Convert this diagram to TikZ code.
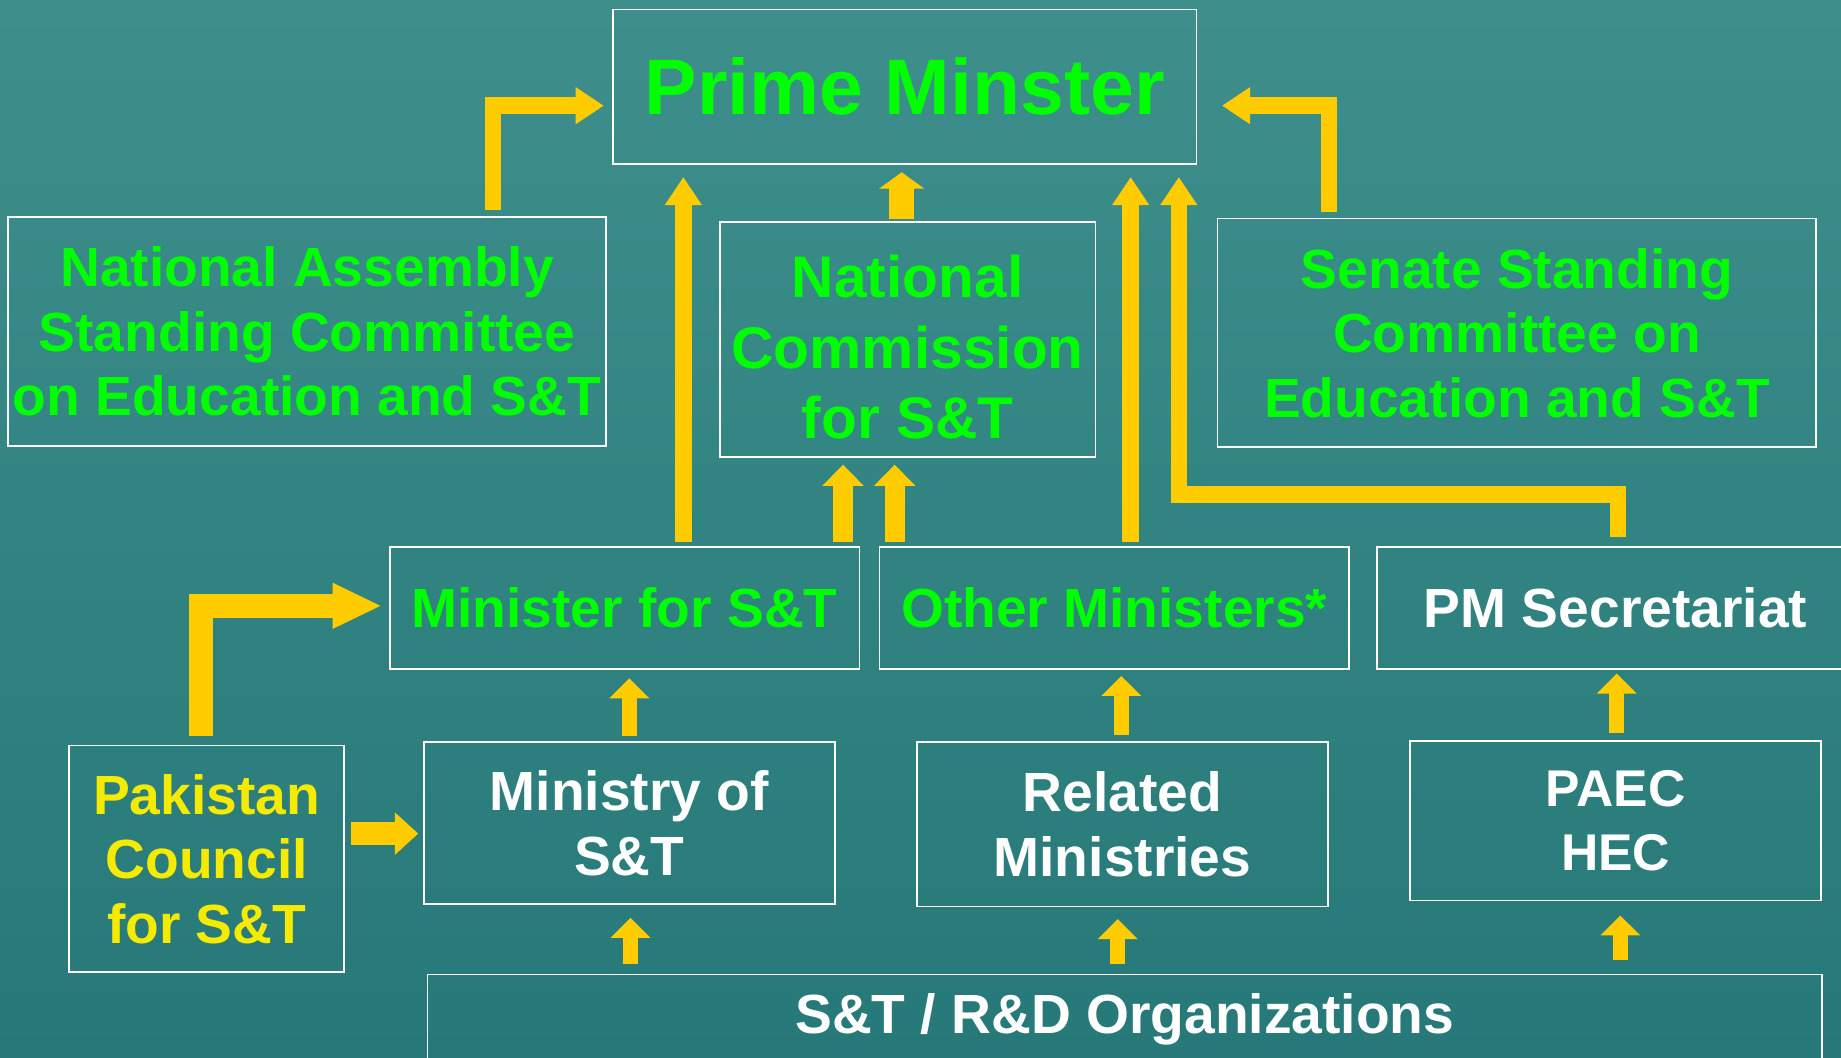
\documentclass[tikz,border=0pt]{standalone}
\usepackage{fontspec}
\setmainfont{Liberation Sans}
\usepackage{tikz}
\usetikzlibrary{arrows.meta, positioning, calc}
\definecolor{teal1}{RGB}{62,143,140}
\definecolor{teal2}{RGB}{38,121,120}
\definecolor{aroyellow}{RGB}{255,204,0}
\definecolor{pmgreen}{RGB}{0,255,0}
\definecolor{pcyellow}{RGB}{245,235,0}
\tikzstyle{office} = [rectangle, draw=white, line width=1.5pt, align=center, inner sep=2pt, font=\fontsize{47}{55}\selectfont\bfseries]
\tikzstyle{aro} = [-{Triangle[width=30pt,length=24pt]}, line width=14pt, draw=aroyellow]
\tikzstyle{stub} = [-{Triangle[width=33pt,length=17pt]}, line width=13pt, draw=aroyellow]
\tikzstyle{pair} = [-{Triangle[width=34pt,length=18pt]}, line width=17pt, draw=aroyellow]
\tikzstyle{fat} = [-{Triangle[width=38pt,length=14pt]}, line width=21pt, draw=aroyellow]
\tikzstyle{wide} = [-{Triangle[width=36pt,length=42pt]}, line width=20pt, draw=aroyellow]

\begin{document}
\begin{tikzpicture}[x=1pt, y=-1pt]

  \fill [top color=teal1, bottom color=teal2] (0,0) rectangle (1568,901);
  \useasboundingbox (0,0) rectangle (1568,901);

  % top row
  \node (pm) [office, minimum width=497pt, minimum height=132pt, text=pmgreen,
    font=\fontsize{67}{70}\selectfont\bfseries] at (770.5,74) {Prime Minster};
  \node (na) [office, minimum width=509pt, minimum height=195pt, text=pmgreen] at (261.5,282.5)
    {National Assembly\\Standing Committee\\on Education and S\&T};
  \node (nc) [office, minimum width=320pt, minimum height=200pt, text=pmgreen,
    font=\fontsize{50}{60}\selectfont\bfseries] at (773,289) {\\[-10pt]National\\Commission\\for S\&T};
  \node (senate) [office, minimum width=510pt, minimum height=195pt, text=pmgreen] at (1292,283.5)
    {Senate Standing\\Committee on\\Education and S\&T};

  % ministers
  \node (minister) [office, minimum width=400pt, minimum height=104pt, text=pmgreen] at (532,518) {Minister for S\&T};
  \node (other) [office, minimum width=400pt, minimum height=104pt, text=pmgreen] at (949,518) {Other Ministers*};
  \node (pmsec) [office, minimum width=406pt, minimum height=104pt, text=white] at (1376,518) {PM Secretariat};

  % ministries
  \node (pcouncil) [office, minimum width=234pt, minimum height=193pt, text=pcyellow] at (176,731.5)
    {Pakistan\\Council\\for S\&T};
  \node (ministry) [office, minimum width=350pt, minimum height=138pt, text=white] at (536,701) {Ministry of\\S\&T};
  \node (related) [office, minimum width=350pt, minimum height=140pt, text=white] at (956,702) {Related\\Ministries};
  \node (paec) [office, minimum width=350pt, minimum height=136pt, text=white,
    font=\fontsize{44}{54}\selectfont\bfseries] at (1376,699) {PAEC\\HEC};
  \node (org) [office, minimum width=1188pt, minimum height=76pt, text=white] at (958,868) {S\&T / R\&D Organizations};

  % to the prime minister
  \draw [aro] ([xshift=158.5pt,yshift=5pt]na.north) |- ([xshift=-7pt,yshift=-16pt]pm.west);
  \draw [aro] ([xshift=-160pt,yshift=5pt]senate.north) |- ([xshift=21pt,yshift=-16pt]pm.east);
  \draw [aro] ([xshift=50pt,yshift=4pt]minister.north) -- ($(pm.south -| minister.north)+(50pt,-10pt)$);
  \draw [aro] ([xshift=14pt,yshift=4pt]other.north) -- ($(pm.south -| other.north)+(14pt,-10pt)$);
  \draw [aro] ([xshift=2pt,yshift=8pt]pmsec.north) -- ++(0,36pt) -| ($(pm.south)+(233.5pt,-10pt)$);
  \draw [fat] ([xshift=-5pt,yshift=2pt]nc.north) -- ($(pm.south -| nc.north)+(-5pt,-6pt)$);

  % to the commission
  \draw [pair] ([xshift=186pt,yshift=4pt]minister.north) -- ($(nc.south -| minister.north)+(186pt,-6pt)$);
  \draw [pair] ([xshift=-187pt,yshift=4pt]other.north) -- ($(nc.south -| other.north)+(-187pt,-6pt)$);

  % council
  \draw [wide] ([xshift=-5pt,yshift=7pt]pcouncil.north) |- ([xshift=-6pt,yshift=2pt]minister.west);
  \draw [-{Triangle[width=35pt,length=20pt]}, line width=20pt, draw=aroyellow]
    ([xshift=5pt,yshift=21.5pt]pcouncil.east) -- ([xshift=-4pt,yshift=-9pt]ministry.west);

  % upward stubs
  \draw [stub] ([yshift=4pt]ministry.north) -- ($(minister.south -| ministry.north)+(0,-7pt)$);
  \draw [stub] ([xshift=-1pt,yshift=5pt]related.north) -- ($(other.south -| related.north)+(-1pt,-5pt)$);
  \draw [stub] ([xshift=1pt,yshift=6pt]paec.north) -- ($(pmsec.south -| paec.north)+(1pt,-3pt)$);
  \draw [stub] ($(org.north -| ministry.south)+(1pt,8pt)$) -- ([xshift=1pt,yshift=-11pt]ministry.south);
  \draw [stub] ($(org.north -| related.south)+(-4pt,8pt)$) -- ([xshift=-4pt,yshift=-10pt]related.south);
  \draw [stub] ($(org.north -| paec.south)+(4pt,12pt)$) -- ([xshift=4pt,yshift=-12pt]paec.south);

\end{tikzpicture}
\end{document}
